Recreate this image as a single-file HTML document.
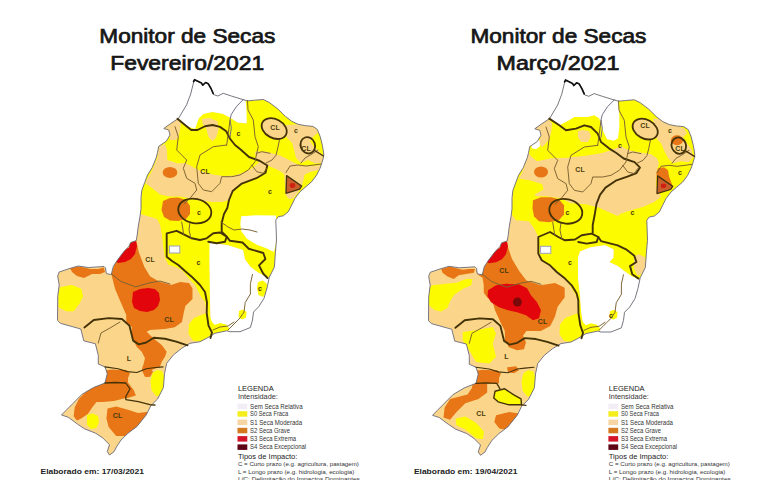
<!DOCTYPE html>
<html><head><meta charset="utf-8"><style>
html,body{margin:0;padding:0;background:#fff;}
body{width:770px;height:480px;overflow:hidden;position:relative;font-family:"Liberation Sans",sans-serif;}
svg{position:absolute;left:0;top:0;}
.title{font-family:"Liberation Sans",sans-serif;font-weight:normal;font-size:20px;fill:#161616;stroke:#161616;stroke-width:0.7px;}
.lb{font-family:"Liberation Sans",sans-serif;font-size:7px;font-weight:bold;fill:#4a3a0a;}
.lg1{font-size:7.6px;fill:#222;} .lg1n{font-size:7.6px;fill:#222;} .lg2{font-size:6.6px;fill:#333;} .lg3{font-size:6.3px;fill:#333;} .lg4{font-size:6px;fill:#333;} .el{font-size:8.1px;font-weight:bold;fill:#222;}
text{font-family:"Liberation Sans",sans-serif;}
</style></head><body>
<svg width="770" height="480" viewBox="0 0 770 480">
<defs><clipPath id="oc"><path d="M194.6,79.7 L201.5,83.1 L202.8,85.2 L205.6,82.5 L208.3,83.8 L211,88.5 L213.7,94.6 L217.8,96 L223.2,93.3 L231.3,96 L240,98.7 L247.3,100.9 L254.6,100.2 L263.3,99.5 L269.2,102.4 L277.9,109 L285.2,116.2 L291.7,121.3 L298.3,124.3 L305.6,125.7 L312.9,126.4 L317.3,129.4 L320.2,136.6 L322.4,145.4 L323.8,154.1 L323.3,158 L321.7,163.3 L320,168.3 L316.7,175 L311.7,181.7 L305,187.5 L300,191.7 L295,198.3 L291.7,205 L288.3,211.7 L283.3,215.8 L278.3,216.7 L275.8,220 L276.5,240 L275.4,252.5 L274.4,267 L269.2,277.5 L267,288 L264,298.3 L258.75,306.7 L253.5,312 L252.5,320 L250.4,327.5 L240,331.7 L230,331.7 L226.7,330.8 L215,333.3 L206.7,338.3 L200,341.7 L190,343.3 L181.7,348.3 L173.3,355 L166.7,363.3 L164.5,373.7 L163.4,387.5 L157.6,399 L150.75,405.8 L146.2,415 L137,426.4 L127.9,433.3 L121,440 L116.4,447 L114.1,451.6 L109.5,455 L107.25,451.6 L109.5,444.7 L102.7,437.9 L95.8,433.3 L84.3,428.7 L77.5,424.1 L68.3,417.25 L61.5,415 L66,410.4 L72.9,403.5 L82,394.3 L93.5,387.5 L105,383 L107.25,373.7 L105,366.9 L98.3,364 L98.3,355.4 L95.4,343.75 L83.75,340.8 L80.8,329 L60.4,323.3 L57.5,320.4 L57.7,296.7 L59.2,285 L57.7,276 L59.2,272 L68,269 L78,266 L88.3,267.5 L104,266.5 L105.5,268 L106.3,273.5 L111.25,274.6 L113.3,266.25 L117.5,260 L123.75,251.7 L128.75,246.5 L130.6,242.5 L136.25,240.6 L137.2,235 L138.1,227.5 L140,216.25 L141,208.75 L141,197.5 L141.9,190 L144.7,182.5 L147.5,175 L152.2,167.5 L156.25,157.5 L157.5,152.5 L158.75,146.25 L166.25,141.25 L170,135 L168.75,130 L163.75,128.5 L170.3,123.8 L178.5,118.4 L186.6,104.8 L190.7,94 L193.4,83.1 Z"/></clipPath></defs>
<g id="L">
<path d="M194.6,79.7 L201.5,83.1 L202.8,85.2 L205.6,82.5 L208.3,83.8 L211,88.5 L213.7,94.6 L217.8,96 L223.2,93.3 L231.3,96 L240,98.7 L247.3,100.9 L254.6,100.2 L263.3,99.5 L269.2,102.4 L277.9,109 L285.2,116.2 L291.7,121.3 L298.3,124.3 L305.6,125.7 L312.9,126.4 L317.3,129.4 L320.2,136.6 L322.4,145.4 L323.8,154.1 L323.3,158 L321.7,163.3 L320,168.3 L316.7,175 L311.7,181.7 L305,187.5 L300,191.7 L295,198.3 L291.7,205 L288.3,211.7 L283.3,215.8 L278.3,216.7 L275.8,220 L276.5,240 L275.4,252.5 L274.4,267 L269.2,277.5 L267,288 L264,298.3 L258.75,306.7 L253.5,312 L252.5,320 L250.4,327.5 L240,331.7 L230,331.7 L226.7,330.8 L215,333.3 L206.7,338.3 L200,341.7 L190,343.3 L181.7,348.3 L173.3,355 L166.7,363.3 L164.5,373.7 L163.4,387.5 L157.6,399 L150.75,405.8 L146.2,415 L137,426.4 L127.9,433.3 L121,440 L116.4,447 L114.1,451.6 L109.5,455 L107.25,451.6 L109.5,444.7 L102.7,437.9 L95.8,433.3 L84.3,428.7 L77.5,424.1 L68.3,417.25 L61.5,415 L66,410.4 L72.9,403.5 L82,394.3 L93.5,387.5 L105,383 L107.25,373.7 L105,366.9 L98.3,364 L98.3,355.4 L95.4,343.75 L83.75,340.8 L80.8,329 L60.4,323.3 L57.5,320.4 L57.7,296.7 L59.2,285 L57.7,276 L59.2,272 L68,269 L78,266 L88.3,267.5 L104,266.5 L105.5,268 L106.3,273.5 L111.25,274.6 L113.3,266.25 L117.5,260 L123.75,251.7 L128.75,246.5 L130.6,242.5 L136.25,240.6 L137.2,235 L138.1,227.5 L140,216.25 L141,208.75 L141,197.5 L141.9,190 L144.7,182.5 L147.5,175 L152.2,167.5 L156.25,157.5 L157.5,152.5 L158.75,146.25 L166.25,141.25 L170,135 L168.75,130 L163.75,128.5 L170.3,123.8 L178.5,118.4 L186.6,104.8 L190.7,94 L193.4,83.1 Z" fill="#fbd68a"/>
<g clip-path="url(#oc)">
<path d="M178.75,118.75 L188.75,121.25 L197.5,117.5 L203.75,113.75 L212.5,111.9 L222.5,113.75 L230,117.5 L237.5,122.5 L245.8,123.5 L245.5,100.6 L247.3,100.9 L254.6,100.2 L263.3,99.5 L269.2,102.4 L277.9,109 L285.2,116.2 L291.7,121.3 L298.3,124.3 L305.6,125.7 L312.9,126.4 L317.3,129.4 L320.2,136.6 L322.4,145.4 L323.8,154.1 L323.3,158 L321.7,163.3 L320,168.3 L316.7,175 L311.7,181.7 L305,187.5 L300,191.7 L295,198.3 L291.7,205 L288.3,211.7 L283.3,215.8 L278.3,216.7 L275.8,220 L276.5,240 L275.4,252.5 L274.4,267 L269.2,277.5 L265.6,276.25 L258,272.5 L250.6,267 L245,259.4 L243,250 L228,245.3 L211,242.5 L209.5,260 L210,300 L210.5,318 L206.7,313 L205,302 L200,295 L195,285 L188.3,278.3 L181.7,270 L175,266.7 L168.3,265 L165,258.3 L163.3,248.3 L161.7,235 L160,225 L157,219 L140.6,214 L141.9,190 L144.7,182.5 L147.5,175 L152.2,167.5 L156,160 L157.5,152.5 L158.75,146.25 L166.25,141.25 L170,135 L168.75,130 L163.75,128.5 L170.3,123.8 Z" fill="#fdfb00"/>
<path d="M158.75,146.25 L165,144 L167,150 L167.3,160 L178.2,163.6 L185.5,163 L194.5,168 L201.8,171.5 L212.7,174.5 L223.6,176 L234.5,175.5 L245.5,172 L252.7,168 L258.2,163 L265.5,160 L268,165 L264,172 L256.4,177.5 L249,180.5 L241.8,183.6 L232.7,191 L229,200 L222,202 L212,202 L200,200.5 L189,198.2 L180,196.4 L169,196.4 L160,194.5 L151,187.3 L145.5,183.6 L145.5,181.8 L151,172.7 L157.3,158.2 Z" fill="#fbd68a"/>
<path d="M163.75,128.5 L170,124.5 L177.5,119 L181,123 L180,130 L178.75,137 L176,140 L170,140 L170,135 L168.75,130 Z" fill="#fbd68a"/>
<path d="M201.9,118.75 L210,118.1 L217.5,121.25 L218.75,128.75 L216.25,137.5 L212.5,141.25 L208.75,137.5 L206.25,128.75 L202.5,123.75 Z" fill="#fbd68a"/>
<path d="M286,125 L297.3,124.2 L306,126 L315,127 L318.5,132.2 L313,137 L310,141 L314,147 L320,152 L323.5,158 L322,163 L315,163.5 L308,160 L301,163 L296,158 L294,150 L292,143 L288.4,139.2 L284.5,135 Z" fill="#fbd68a"/>
<path d="M254.8,151.6 L265.4,151.6 L279.6,155.2 L290.2,160.5 L300.8,165.8 L313.2,165.8 L321.5,165 L319.5,170 L310,172 L303,175.6 L300,180 L290,178 L284,174 L278,170 L269,166 L262,166 L256.5,160 Z" fill="#fbd68a"/>
<path d="M284,172 L296,170 L305,173 L303,182 L301.7,186 L299.6,189.2 L297.5,193.3 L293.5,198.5 L289,199 L285.5,195 L285,185 Z" fill="#fbd68a"/>
<path d="M138.75,220 L157,219 L160,225 L161.7,235 L163.3,248.3 L165,258.3 L168.3,265 L175,266.7 L181.7,270 L188.3,278.3 L195,285 L200,295 L150,300 L130,260 L136,240 Z" fill="#fbd68a"/>
<path d="M194.6,79.7 L201.5,83.1 L202.8,85.2 L205.6,82.5 L208.3,83.8 L211,88.5 L213.7,94.6 L217.8,96 L223.2,93.3 L231.3,96 L240,98.7 L245.5,100.6 L246.5,110 L246.8,123.3 L237.5,122.5 L231.9,118.75 L230,117.5 L222.5,113.75 L212.5,111.9 L203.75,113.75 L199,118 L195,129 L186.25,126 L177.5,118.75 L183.75,107.5 L187.5,100 L190.7,94 L193.4,83.1 Z" fill="#ffffff"/>
<path d="M241.25,216.25 L256.25,215.3 L276,215.5 L276.5,240 L274,252 L265.6,248 L256.25,244.4 L246.9,238.75 L241.25,231.25 L240.3,223.75 Z" fill="#ffffff"/>
<path d="M209.4,242.5 L228,245.3 L243,250 L245,259.4 L250.6,267 L258,272.5 L265.6,276.25 L269.2,277.5 L267,288 L264,298.3 L258.75,306.7 L253.5,312 L252.5,320 L250.4,327.5 L240,331.7 L230,331.7 L226.7,330.8 L215,333.3 L212,332.6 L210.5,318 L210,300 L209.5,260 Z" fill="#ffffff"/>
<path d="M286.6,175.6 L301.7,186 L299.6,189.2 L286,193.3 Z" fill="#c8602e"/>
<path d="M116.9,255 L122,250 L128.75,248 L130.6,242.5 L136.25,240.6 L138.75,252 L144.4,267 L150,276.25 L159,281.5 L171.25,285 L180.1,282 L189,283 L192.5,288.3 L192.5,299 L185.4,306 L183.7,313 L182,322 L174.8,327.3 L165,329 L150,330 L146.7,331.7 L153.3,338.3 L161.7,345 L166.7,351.7 L165,356.7 L161.7,361.7 L160,366.7 L151.7,370 L150,376.7 L145,376.7 L141.7,370 L143.3,365 L145,358.3 L141.7,351.7 L136.7,346.7 L133.3,340 L131.7,333.3 L131.7,326.7 L126.25,322.5 L126.25,315 L120.6,301.9 L115,288.75 L111.25,273.75 L114.6,264.6 Z" fill="#e87616"/>
<path d="M70,268 L79.4,266.5 L90.6,269 L98,269 L103.75,267.5 L105,272 L100,274 L92,274 L84,278 L77,276 L72,272 Z" fill="#e87616"/>
<path d="M60.6,286.9 L71.9,285 L81.25,288.75 L83.1,296.25 L79.4,303.75 L73.75,311.25 L66.25,311.25 L58.75,307.5 L58.2,292.5 Z" fill="#fdfb00"/>
<path d="M130.6,242.5 L136,241 L137,246 L135,254 L131,259 L125,262 L118,263 L115,261 L117.5,256 L122,250 L128.75,248 Z" fill="#e2060c"/>
<path d="M133,292 L140,289 L148,288 L155,289 L159,293 L160,300 L158,306 L154,310 L147,312 L140,311 L134,308 L132,302 Z" fill="#e2060c"/>
<path d="M105,370.4 L112,369.5 L120,370 L126,370 L130,373 L128,378 L128,383 L123,383.5 L112,383.5 L105,383 L106,378.75 L107,372.5 Z" fill="#e87616"/>
<path d="M105.3,380.1 L127.1,381.2 L133.7,390 L135.9,395.4 L129.3,397.6 L122.8,398.7 L114,401 L103,402 L96.5,402 L92.2,407.5 L87.8,414 L81.2,418.4 L76.9,420.6 L73.6,416.2 L74.7,407.5 L79,398.7 L87.8,390 L96.5,383.4 Z" fill="#e87616"/>
<path d="M107.5,408.6 L116.2,406.4 L127.1,409.6 L138,413 L149,411.8 L146.8,420.6 L138,429.3 L127.1,436 L116.2,436 L108.6,427.1 L106.4,418.4 Z" fill="#e87616"/>
<path d="M87,415 L93,413.5 L98,416 L99,422 L96.5,428 L91,429 L87,425 Z" fill="#fdfb00"/>
<path d="M157,370 L162,371 L164.4,376.7 L164,387 L161.25,395.4 L156,396 L151.5,390 L150.5,381 L152.5,373 Z" fill="#fdfb00"/>
<path d="M142.5,366 L150,366 L153,372 L150,376.7 L145,376.7 Z" fill="#e87616"/>
<path d="M163,201 L170,198 L178,197.5 L186,200 L190,206 L190,214 L186,219 L178,221 L170,220.5 L164,217 L161.5,210 Z" fill="#e87616"/>
<path d="M206.7,313 L210.5,318 L212,322 L215,325 L213.3,333.5 L206.7,338.3 L200,341.7 L193,340.5 L188.5,334 L189,324 L194,318 L201,315 Z" fill="#fdfb00"/>
<path d="M213.3,325.5 L220,323 L226,324.5 L229,328 L228.3,331.5 L220,332.5 L213.3,333.5 Z" fill="#fdfb00"/>
<path d="M239,311 L243,309.5 L246.5,312 L246,317.5 L242,319.5 L238.5,317 Z" fill="#fdfb00"/>
<path d="M258,282 L263,280.5 L267,284 L266.5,292 L263,297 L258.5,295 L257,288 Z" fill="#fdfb00"/>
<ellipse cx="292.5" cy="185.5" rx="2.8" ry="2.4" transform="rotate(0 292.5 185.5)" fill="#d02010"/>
<ellipse cx="274.2" cy="128.6" rx="13.3" ry="9.4" transform="rotate(28 274.2 128.6)" fill="#fbd68a"/>
<ellipse cx="170" cy="172.4" rx="7.3" ry="5.5" transform="rotate(0 170 172.4)" fill="#e87616"/>
</g>
<path d="M194.6,79.7 L201.5,83.1 L202.8,85.2 L205.6,82.5 L208.3,83.8 L211,88.5 L213.7,94.6 L217.8,96 L223.2,93.3 L231.3,96 L240,98.7 L247.3,100.9 L254.6,100.2 L263.3,99.5 L269.2,102.4 L277.9,109 L285.2,116.2 L291.7,121.3 L298.3,124.3 L305.6,125.7 L312.9,126.4 L317.3,129.4 L320.2,136.6 L322.4,145.4 L323.8,154.1 L323.3,158 L321.7,163.3 L320,168.3 L316.7,175 L311.7,181.7 L305,187.5 L300,191.7 L295,198.3 L291.7,205 L288.3,211.7 L283.3,215.8 L278.3,216.7 L275.8,220 L276.5,240 L275.4,252.5 L274.4,267 L269.2,277.5 L267,288 L264,298.3 L258.75,306.7 L253.5,312 L252.5,320 L250.4,327.5 L240,331.7 L230,331.7 L226.7,330.8 L215,333.3 L206.7,338.3 L200,341.7 L190,343.3 L181.7,348.3 L173.3,355 L166.7,363.3 L164.5,373.7 L163.4,387.5 L157.6,399 L150.75,405.8 L146.2,415 L137,426.4 L127.9,433.3 L121,440 L116.4,447 L114.1,451.6 L109.5,455 L107.25,451.6 L109.5,444.7 L102.7,437.9 L95.8,433.3 L84.3,428.7 L77.5,424.1 L68.3,417.25 L61.5,415 L66,410.4 L72.9,403.5 L82,394.3 L93.5,387.5 L105,383 L107.25,373.7 L105,366.9 L98.3,364 L98.3,355.4 L95.4,343.75 L83.75,340.8 L80.8,329 L60.4,323.3 L57.5,320.4 L57.7,296.7 L59.2,285 L57.7,276 L59.2,272 L68,269 L78,266 L88.3,267.5 L104,266.5 L105.5,268 L106.3,273.5 L111.25,274.6 L113.3,266.25 L117.5,260 L123.75,251.7 L128.75,246.5 L130.6,242.5 L136.25,240.6 L137.2,235 L138.1,227.5 L140,216.25 L141,208.75 L141,197.5 L141.9,190 L144.7,182.5 L147.5,175 L152.2,167.5 L156.25,157.5 L157.5,152.5 L158.75,146.25 L166.25,141.25 L170,135 L168.75,130 L163.75,128.5 L170.3,123.8 L178.5,118.4 L186.6,104.8 L190.7,94 L193.4,83.1 Z" fill="none" stroke="#6a6a7a" stroke-width="0.9"/>
<path d="M177.5,118.75 L185,125 L191.25,130 L197.5,130 L205,126.25 L212.5,125 L220,126.9 L226.25,131.25 L230,138.75 L235,145 L240,149 L249,157 L260,161 L267.3,165.5 L265.5,172.7 L256.4,178.2 L241.8,183.6 L232.7,191 L229,200 L227.3,208 L224,214 L221.7,223 L221.7,231.7 L226.7,236.7 L230,240.8 L242.5,242.5 L248.75,248.75 L263.3,253 L265.4,259 L259,265.4 L263.3,273.75 L267.5,278" fill="none" stroke="#443208" stroke-width="1.9" stroke-linejoin="round" stroke-linecap="round"/>
<path d="M208.3,241.7 L216.7,243.3 L225,241.7 L226.7,236.7 L220,232.5 L213.3,233.3 L206.7,238.3 L200,240 L191.7,238.3 L183.3,234.2 L176.7,230.8 L166.7,233.3 L166.7,256.7 L172,261 L178.3,265 L185,271 L191.7,276.7 L200,285 L205,292 L207,302.5 L206.7,313 L208.5,325.6 L212,332.6 L210.5,338" fill="none" stroke="#443208" stroke-width="1.9" stroke-linejoin="round" stroke-linecap="round"/>
<path d="M84.4,327.5 L93.75,320 L108.75,318.1 L121.9,319 L129.4,325.6 L131.25,333.1 L133.1,340.6 L138.75,344.4 L146.25,342.5 L153.75,337.8 L165,338.75 L176.25,341.6 L187.5,345.3" fill="none" stroke="#443208" stroke-width="1.9" stroke-linejoin="round" stroke-linecap="round"/>
<path d="M105,366.9 L118.1,368.75 L127.5,371.6 L136.9,372.5 L146.25,368.75 L153.75,367.8 L163.1,366.9" fill="none" stroke="#443208" stroke-width="1.1" stroke-linejoin="round" stroke-linecap="round"/>
<path d="M105,383 L115,382.5 L125.8,383 L130,389 L125.8,396.5 L125.8,399.6 L138.3,401.7 L150.8,404.8 L155,405" fill="none" stroke="#443208" stroke-width="1.3" stroke-linejoin="round" stroke-linecap="round"/>
<path d="M175,126.7 L178.3,136.7 L176.7,150 L186.7,160 L183.3,168.3 L186.7,178.3 L195,183.3 L196.7,190 L190,198.3 L184,204" fill="none" stroke="#7a6030" stroke-width="0.95" stroke-linejoin="round" stroke-linecap="round"/>
<path d="M226.7,145 L213.3,146.7 L200,155 L196.7,166.7 L198.3,183.3 L203.3,190 L211.7,191.7 L220,183.3 L221.7,176.7 L231.7,176.7 L240,175 L248.3,170 L255,161.7 L256.7,153.3 L261.7,151.7 L270,153.3" fill="none" stroke="#7a6030" stroke-width="0.95" stroke-linejoin="round" stroke-linecap="round"/>
<path d="M247.5,100.5 L248,110 L253.3,120 L255,136.7 L258.3,146.7 L256.7,153.3" fill="none" stroke="#7a6030" stroke-width="0.95" stroke-linejoin="round" stroke-linecap="round"/>
<path d="M230,120 L228.3,133.3 L226.7,145" fill="none" stroke="#7a6030" stroke-width="0.95" stroke-linejoin="round" stroke-linecap="round"/>
<path d="M251.7,165 L256.7,171.7 L263.3,173.3 L266.7,168.3" fill="none" stroke="#7a6030" stroke-width="0.95" stroke-linejoin="round" stroke-linecap="round"/>
<path d="M279.6,139.2 L277.8,148 L276,155.2 L272,160 L266,163" fill="none" stroke="#7a6030" stroke-width="0.95" stroke-linejoin="round" stroke-linecap="round"/>
<path d="M286,172.5 L290,166 L298,165 L306,166 L314,165 L321,164" fill="none" stroke="#7a6030" stroke-width="0.95" stroke-linejoin="round" stroke-linecap="round"/>
<path d="M301,163 L305,158 L312,154 L318,150" fill="none" stroke="#7a6030" stroke-width="0.95" stroke-linejoin="round" stroke-linecap="round"/>
<path d="M111.25,273.75 L120.6,281.25 L135.6,286.9 L148.75,283 L160,281 L170,284" fill="none" stroke="#7a6030" stroke-width="0.95" stroke-linejoin="round" stroke-linecap="round"/>
<path d="M120,322 L110,328 L101,333 L98.3,343" fill="none" stroke="#7a6030" stroke-width="0.95" stroke-linejoin="round" stroke-linecap="round"/>
<path d="M181.7,222 L183,230 L183.75,235" fill="none" stroke="#7a6030" stroke-width="0.95" stroke-linejoin="round" stroke-linecap="round"/>
<path d="M190,222 L189,230 L191,238.75" fill="none" stroke="#7a6030" stroke-width="0.95" stroke-linejoin="round" stroke-linecap="round"/>
<path d="M221,222 L228,227 L234,230 L242,229 L250,230 L257,232" fill="none" stroke="#7a6030" stroke-width="0.95" stroke-linejoin="round" stroke-linecap="round"/>
<path d="M252.5,274.4 L250.4,283.75 L250.4,294 L245.2,302.5 L244,312 L240,318 L236,322 L232,326 L228,330" fill="none" stroke="#7a6030" stroke-width="0.95" stroke-linejoin="round" stroke-linecap="round"/>
<path d="M213,330 L220,327 L228,326 L234,322" fill="none" stroke="#7a6030" stroke-width="0.95" stroke-linejoin="round" stroke-linecap="round"/>
<path d="M243.5,99.4 L236.7,106.2 L231.3,114.3 L230,119.7 L231.3,127.8 L230,137" fill="none" stroke="#6a6a80" stroke-width="0.95" stroke-linejoin="round" stroke-linecap="round"/>
<path d="M286.6,175.6 L301.7,186 L299.6,189.2 L286,193.3 L286.6,175.6" fill="none" stroke="#443208" stroke-width="1.3" stroke-linejoin="round" stroke-linecap="round"/>
<path d="M314.5,150.5 L323.5,156" fill="none" stroke="#443208" stroke-width="1.4" stroke-linejoin="round" stroke-linecap="round"/>
<ellipse cx="274.2" cy="128.6" rx="13.3" ry="9.4" transform="rotate(28 274.2 128.6)" fill="none" stroke="#443208" stroke-width="1.8"/>
<ellipse cx="194.8" cy="211" rx="16.7" ry="12.2" transform="rotate(12 194.8 211)" fill="none" stroke="#443208" stroke-width="1.8"/>
<ellipse cx="307.8" cy="145.3" rx="7.2" ry="8.3" transform="rotate(-20 307.8 145.3)" fill="none" stroke="#443208" stroke-width="1.8"/>
<path d="M193.6,81.5 L194.6,79.7 L201.5,83.1 L202.8,85.2 L205.6,82.5 L208.3,83.8 L211,88.5 L213.2,93.5" fill="none" stroke="#111" stroke-width="1.7" stroke-linejoin="round" stroke-linecap="round"/>
<rect x="169.4" y="246" width="10.4" height="7" fill="#fff" stroke="#9aa0c0" stroke-width="1"/>
<text x="275" y="130" class="lb" text-anchor="middle">CL</text>
<text x="296" y="133" class="lb" text-anchor="middle">c</text>
<text x="306" y="150.5" class="lb" text-anchor="middle">CL</text>
<text x="238.5" y="136" class="lb" text-anchor="middle">c</text>
<text x="205" y="173.5" class="lb" text-anchor="middle">CL</text>
<text x="270" y="193.5" class="lb" text-anchor="middle">c</text>
<text x="199" y="214.5" class="lb" text-anchor="middle">c</text>
<text x="150" y="262" class="lb" text-anchor="middle">CL</text>
<text x="198.5" y="264.5" class="lb" text-anchor="middle">c</text>
<text x="260" y="290.5" class="lb" text-anchor="middle">c</text>
<text x="169" y="322" class="lb" text-anchor="middle">CL</text>
<text x="129" y="360.5" class="lb" text-anchor="middle">L</text>
<text x="117.5" y="418" class="lb" text-anchor="middle">CL</text>
</g>
<g id="R" transform="translate(371,0.3)">
<path d="M194.6,79.7 L201.5,83.1 L202.8,85.2 L205.6,82.5 L208.3,83.8 L211,88.5 L213.7,94.6 L217.8,96 L223.2,93.3 L231.3,96 L240,98.7 L247.3,100.9 L254.6,100.2 L263.3,99.5 L269.2,102.4 L277.9,109 L285.2,116.2 L291.7,121.3 L298.3,124.3 L305.6,125.7 L312.9,126.4 L317.3,129.4 L320.2,136.6 L322.4,145.4 L323.8,154.1 L323.3,158 L321.7,163.3 L320,168.3 L316.7,175 L311.7,181.7 L305,187.5 L300,191.7 L295,198.3 L291.7,205 L288.3,211.7 L283.3,215.8 L278.3,216.7 L275.8,220 L276.5,240 L275.4,252.5 L274.4,267 L269.2,277.5 L267,288 L264,298.3 L258.75,306.7 L253.5,312 L252.5,320 L250.4,327.5 L240,331.7 L230,331.7 L226.7,330.8 L215,333.3 L206.7,338.3 L200,341.7 L190,343.3 L181.7,348.3 L173.3,355 L166.7,363.3 L164.5,373.7 L163.4,387.5 L157.6,399 L150.75,405.8 L146.2,415 L137,426.4 L127.9,433.3 L121,440 L116.4,447 L114.1,451.6 L109.5,455 L107.25,451.6 L109.5,444.7 L102.7,437.9 L95.8,433.3 L84.3,428.7 L77.5,424.1 L68.3,417.25 L61.5,415 L66,410.4 L72.9,403.5 L82,394.3 L93.5,387.5 L105,383 L107.25,373.7 L105,366.9 L98.3,364 L98.3,355.4 L95.4,343.75 L83.75,340.8 L80.8,329 L60.4,323.3 L57.5,320.4 L57.7,296.7 L59.2,285 L57.7,276 L59.2,272 L68,269 L78,266 L88.3,267.5 L104,266.5 L105.5,268 L106.3,273.5 L111.25,274.6 L113.3,266.25 L117.5,260 L123.75,251.7 L128.75,246.5 L130.6,242.5 L136.25,240.6 L137.2,235 L138.1,227.5 L140,216.25 L141,208.75 L141,197.5 L141.9,190 L144.7,182.5 L147.5,175 L152.2,167.5 L156.25,157.5 L157.5,152.5 L158.75,146.25 L166.25,141.25 L170,135 L168.75,130 L163.75,128.5 L170.3,123.8 L178.5,118.4 L186.6,104.8 L190.7,94 L193.4,83.1 Z" fill="#fbd68a"/>
<g clip-path="url(#oc)">
<path d="M156,157 L157.3,156.4 L157.5,152.5 L158.75,146.25 L166.25,141.25 L170,135 L168.75,130 L163.75,128.5 L170.3,123.8 L178.5,118.4 L186.6,104.8 L190.7,94 L193.4,83.1 L194.6,79.7 L201.5,83.1 L202.8,85.2 L205.6,82.5 L208.3,83.8 L211,88.5 L213.7,94.6 L217.8,96 L223.2,93.3 L231.3,96 L240,98.7 L247.3,100.9 L254.6,100.2 L263.3,99.5 L269.2,102.4 L277.9,109 L285.2,116.2 L291.7,121.3 L298.3,124.3 L305.6,125.7 L312.9,126.4 L317.3,129.4 L320.2,136.6 L322.4,145.4 L323.8,154.1 L323.3,158 L321.7,163.3 L320,168.3 L316.7,175 L311.7,181.7 L305,187.5 L300,191.7 L295,198.3 L291.7,205 L288.3,211.7 L283.3,215.8 L278.3,216.7 L275.8,220 L276.5,240 L275.4,252.5 L274.4,267 L269.2,277.5 L267.5,278.3 L261,276.25 L255,272 L246.7,265.8 L238.3,261.7 L242.5,257.5 L242.5,249 L234,245 L219.6,247 L209,251.25 L207,257.5 L207,278 L209,295 L210,310 L212,325 L208.5,325.6 L206.7,313 L207.6,302.5 L205,295 L198.75,284.6 L190.4,274 L180,265.8 L168.5,257.5 L167.5,236.7 L163,228 L158,221 L145,220 L140.6,214 L141.9,190 L144.7,182.5 L147.5,175 L152.2,167.5 Z" fill="#fdfb00"/>
<path d="M157.5,152.5 L160,156 L166,161 L166,161 L180,158 L196,157.5 L214,155.5 L230,153 L240,150 L250,146 L258,150 L268,152 L280,154 L286,158 L288,163 L286,170 L285,185 L290,196.7 L283.3,201.7 L271.7,206.7 L260,210 L250,213.3 L246.7,215.8 L238,212 L228,207.5 L215,204 L200,203 L190,198 L175,196 L165,196 L163.6,194.5 L172.7,189 L171,183.6 L158.2,180 L147.3,178.2 L145.5,181.8 L151,172.7 L156.25,157.5 Z" fill="#fbd68a"/>
<path d="M163.75,128.5 L170.3,123.8 L177.5,119 L181,123 L180.5,130 L178.75,138 L175,143 L171,147 L168,143 L170,135 L168.75,130 Z" fill="#fbd68a"/>
<path d="M282,118 L290,119 L297,122 L300,127 L296,133 L290,137 L284,138 Z" fill="#fbd68a"/>
<path d="M206.7,131 L212,129.5 L218,131 L220,136 L217,141.7 L210,141.7 L207,137 Z" fill="#fbd68a"/>
<path d="M194.6,79.7 L201.5,83.1 L202.8,85.2 L205.6,82.5 L208.3,83.8 L211,88.5 L213.7,94.6 L217.8,96 L223.2,93.3 L231.3,96 L240,98.7 L247.3,100.9 L248.3,115 L248.3,128 L247,138 L243,140.5 L236,139 L231.7,130 L229,121 L228.3,118.3 L223.3,115 L216.7,116.7 L203.3,116.7 L198.3,120 L188.3,125 L178.3,118.3 L183.75,107.5 L187.5,100 L190.7,94 L193.4,83.1 Z" fill="#ffffff"/>
<path d="M163,138 L168.5,140 L169,146 L165,149 L160.5,148 L161,143 Z" fill="#ffffff"/>
<path d="M286.7,124 L296,124 L306,126 L313,128 L316,133 L312,137 L316,143 L321,150 L322,157 L318,162 L310,161 L302,163 L297,158 L293,150 L290,143 L286,139 L284,134 Z" fill="#fbd68a"/>
<path d="M263,256 L268,254 L274,257 L274.5,266 L272,274 L266,275 L263,268 Z" fill="#fbd68a"/>
<path d="M209,251.25 L219.6,247 L234,245 L242.5,249 L242.5,257.5 L238.3,261.7 L246.7,265.8 L255,272 L261,276.25 L267.5,278.3 L269.2,277.5 L267,288 L264,298.3 L258.75,306.7 L253.5,312 L252.5,320 L250.4,327.5 L240,331.7 L230,331.7 L226.7,330.8 L215,333.3 L212,325 L210,310 L209,295 L207,278 L207,257.5 Z" fill="#ffffff"/>
<path d="M239,311 L243,309.5 L246.5,312 L246,317.5 L242,319.5 L238.5,317 Z" fill="#fdfb00"/>
<path d="M206.7,313 L210.5,318 L212,322 L215,325 L213.3,333.5 L206.7,338.3 L200,341.7 L193,340.5 L188.5,334 L189,324 L194,318 L201,315 Z" fill="#fdfb00"/>
<path d="M213.3,325.5 L220,323 L226,324.5 L229,328 L228.3,331.5 L220,332.5 L213.3,333.5 Z" fill="#fdfb00"/>
<path d="M117.5,255.8 L122,250 L128.75,248 L130.6,242.5 L136.2,244.4 L141,258.7 L148.2,270.7 L155.4,280.3 L169.7,285 L184,282.7 L193.7,287.5 L193.7,297 L186.5,306.6 L184,316.2 L179.3,325.8 L169.7,330.6 L155.4,330.6 L152,335.4 L155,342 L153,349 L146,350 L138,347 L134,340 L133.8,330.6 L129,321 L124,310 L121.5,301.25 L116.5,297.5 L112.75,292.5 L112.75,285 L111.5,277.5 L107.75,275 L105.25,271.25 L107.3,267.5 L114.6,264.6 Z" fill="#e87616"/>
<path d="M70.25,268.75 L79,266.25 L85.25,268 L91.5,269.4 L97.75,268.75 L104,268.75 L102.75,272.5 L95.25,273.75 L87.75,275 L82.75,278.75 L76.5,276.25 L71.5,272.5 Z" fill="#e87616"/>
<path d="M61.5,285 L72.75,283.75 L85.25,282.5 L95.25,278.75 L101.5,278.75 L100.25,285 L91.5,288.75 L82.75,295 L79,301.25 L76.5,307.5 L70.25,311.25 L64,310 L57.75,305 L57.1,295 L57.75,287.5 Z" fill="#fdfb00"/>
<path d="M130.6,242.5 L136,241 L137,246 L135,254 L131,259 L125,262 L118,263 L115,261 L117.5,256 L122,250 L128.75,248 Z" fill="#e2060c"/>
<path d="M117,290 L125,285 L135,283.5 L148,284 L156,288 L160,295 L166,302 L170,310 L168,318 L162,320 L155,315 L146,312 L137,310 L128,307 L120,302 L116.5,296 Z" fill="#e2060c"/>
<path d="M91.7,331.7 L105,330 L121.7,326.7 L125,333.3 L121.7,343.3 L125,356.7 L118.3,363.3 L105,361.7 L98.3,350 L91.7,340 Z" fill="#fdfb00"/>
<path d="M105,370.4 L112,369.5 L120,370 L126,370 L130,373 L128,378 L128,383 L123,383.5 L112,383.5 L105,383 L106,378.75 L107,372.5 Z" fill="#e87616"/>
<path d="M136,367 L145,366 L148,370 L143,373 L137,372 Z" fill="#e87616"/>
<path d="M157,370 L162,371 L164.4,376.7 L164,387 L161.25,395.4 L156,396 L151.5,390 L150.5,381 L152.5,373 Z" fill="#fdfb00"/>
<path d="M124,391 L133.7,388.5 L142.4,394.3 L150,398.5 L150.5,404.5 L138,404.5 L127.1,401.5 L122.8,397.6 Z" fill="#fdfb00"/>
<path d="M102,381.2 L116.2,383.4 L116.2,392.2 L107.5,398.7 L94.3,403 L85.6,411.8 L79,419.5 L72.5,417.3 L73.6,407.5 L79,398.7 L87.8,396.5 L96.5,394.3 L100.9,387.8 Z" fill="#e87616"/>
<path d="M84.5,418.4 L94.3,416.2 L105.3,422.8 L113,431.5 L111.8,439 L105.3,438 L94.3,429.3 L85.6,425 Z" fill="#fdfb00"/>
<path d="M125,415 L138.3,411.7 L148.3,413.3 L146.7,423.3 L138.3,430 L128.3,428.3 L123.3,421.7 Z" fill="#e87616"/>
<path d="M162,200 L170,197 L180,197 L188,199 L193,205 L193,214 L188,220 L178,222 L168,221 L163,216 L161.5,208 Z" fill="#e87616"/>
<path d="M287,168 L293,167 L297,170 L298,176 L301.7,186 L299.6,189.2 L286,193.3 L285.8,180 L285.5,172 Z" fill="#e87616"/>
<path d="M286.6,175.6 L301.7,186 L299.6,189.2 L286,193.3 Z" fill="#c8602e"/>
<ellipse cx="274.2" cy="128.8" rx="13.3" ry="9.4" transform="rotate(28 274.2 128.8)" fill="#fbd68a"/>
<ellipse cx="170" cy="171.7" rx="7" ry="5.5" transform="rotate(0 170 171.7)" fill="#e87616"/>
<ellipse cx="306" cy="140" rx="6" ry="5" transform="rotate(0 306 140)" fill="#e87616"/>
<ellipse cx="146.4" cy="301.8" rx="4.5" ry="4.5" transform="rotate(0 146.4 301.8)" fill="#7a0a0a"/>
<ellipse cx="292.5" cy="185.5" rx="2.8" ry="2.4" transform="rotate(0 292.5 185.5)" fill="#d02010"/>
</g>
<path d="M194.6,79.7 L201.5,83.1 L202.8,85.2 L205.6,82.5 L208.3,83.8 L211,88.5 L213.7,94.6 L217.8,96 L223.2,93.3 L231.3,96 L240,98.7 L247.3,100.9 L254.6,100.2 L263.3,99.5 L269.2,102.4 L277.9,109 L285.2,116.2 L291.7,121.3 L298.3,124.3 L305.6,125.7 L312.9,126.4 L317.3,129.4 L320.2,136.6 L322.4,145.4 L323.8,154.1 L323.3,158 L321.7,163.3 L320,168.3 L316.7,175 L311.7,181.7 L305,187.5 L300,191.7 L295,198.3 L291.7,205 L288.3,211.7 L283.3,215.8 L278.3,216.7 L275.8,220 L276.5,240 L275.4,252.5 L274.4,267 L269.2,277.5 L267,288 L264,298.3 L258.75,306.7 L253.5,312 L252.5,320 L250.4,327.5 L240,331.7 L230,331.7 L226.7,330.8 L215,333.3 L206.7,338.3 L200,341.7 L190,343.3 L181.7,348.3 L173.3,355 L166.7,363.3 L164.5,373.7 L163.4,387.5 L157.6,399 L150.75,405.8 L146.2,415 L137,426.4 L127.9,433.3 L121,440 L116.4,447 L114.1,451.6 L109.5,455 L107.25,451.6 L109.5,444.7 L102.7,437.9 L95.8,433.3 L84.3,428.7 L77.5,424.1 L68.3,417.25 L61.5,415 L66,410.4 L72.9,403.5 L82,394.3 L93.5,387.5 L105,383 L107.25,373.7 L105,366.9 L98.3,364 L98.3,355.4 L95.4,343.75 L83.75,340.8 L80.8,329 L60.4,323.3 L57.5,320.4 L57.7,296.7 L59.2,285 L57.7,276 L59.2,272 L68,269 L78,266 L88.3,267.5 L104,266.5 L105.5,268 L106.3,273.5 L111.25,274.6 L113.3,266.25 L117.5,260 L123.75,251.7 L128.75,246.5 L130.6,242.5 L136.25,240.6 L137.2,235 L138.1,227.5 L140,216.25 L141,208.75 L141,197.5 L141.9,190 L144.7,182.5 L147.5,175 L152.2,167.5 L156.25,157.5 L157.5,152.5 L158.75,146.25 L166.25,141.25 L170,135 L168.75,130 L163.75,128.5 L170.3,123.8 L178.5,118.4 L186.6,104.8 L190.7,94 L193.4,83.1 Z" fill="none" stroke="#6a6a7a" stroke-width="0.9"/>
<path d="M178.3,118.3 L188.3,125 L195,130 L205,128.3 L213.3,125 L220,126.7 L226.7,133.3 L230,141.7 L238.3,148.3 L245,152.5 L252.7,158.2 L263.6,161.8 L269,167.3 L265.5,172.7 L256.4,176.4 L245.5,180 L234.5,187.3 L229,194.5 L225.5,203.6 L223.6,215 L221.7,225 L221.7,232.5" fill="none" stroke="#443208" stroke-width="1.9" stroke-linejoin="round" stroke-linecap="round"/>
<path d="M227.3,236.7 L230,240.8 L246.7,245 L255,249 L263.3,255.4 L265.4,261.7 L259,265.8 L261.25,274 L267.5,278.3" fill="none" stroke="#443208" stroke-width="1.9" stroke-linejoin="round" stroke-linecap="round"/>
<path d="M207.3,241.7 L215.7,243.3 L225.7,241.7 L227.3,236.7 L220.7,233.3 L210.7,235 L204,239.2 L194,240 L187.3,236.7 L179,231.7 L167.3,236.7 L167.3,253.3 L170.7,260 L179,265 L185.7,271.7 L194,278.3 L200.7,285 L205.7,293.3 L207.3,300 L207.5,313 L209.3,325 L212,332.6 L210.5,338" fill="none" stroke="#443208" stroke-width="1.9" stroke-linejoin="round" stroke-linecap="round"/>
<path d="M84.4,327.5 L93.75,320 L108.75,318.1 L121.9,319 L129.4,325.6 L131.25,333.1 L133.1,340.6 L138.75,344.4 L146.25,342.5 L153.75,337.8 L165,338.75 L176.25,341.6 L187.5,345.3" fill="none" stroke="#443208" stroke-width="1.9" stroke-linejoin="round" stroke-linecap="round"/>
<path d="M105,366.9 L118.1,368.75 L127.5,371.6 L136.9,372.5 L146.25,368.75 L153.75,367.8 L163.1,366.9" fill="none" stroke="#443208" stroke-width="1.1" stroke-linejoin="round" stroke-linecap="round"/>
<path d="M105,383 L115,382.5 L125.8,383 L129,388.5" fill="none" stroke="#443208" stroke-width="1.3" stroke-linejoin="round" stroke-linecap="round"/>
<path d="M150.5,404.5 L155,405" fill="none" stroke="#443208" stroke-width="1.3" stroke-linejoin="round" stroke-linecap="round"/>
<path d="M124,391 L133.7,388.5 L142.4,394.3 L150,398.5 L150.5,404.5 L138,404.5 L127.1,401.5 L122.8,397.6 L124,391" fill="none" stroke="#443208" stroke-width="1.4" stroke-linejoin="round" stroke-linecap="round"/>
<path d="M175,126.7 L178.3,136.7 L176.7,150 L186.7,160 L183.3,168.3 L186.7,178.3 L195,183.3 L196.7,190 L190,198.3 L184,204" fill="none" stroke="#7a6030" stroke-width="0.95" stroke-linejoin="round" stroke-linecap="round"/>
<path d="M226.7,145 L213.3,146.7 L200,155 L196.7,166.7 L198.3,183.3 L203.3,190 L211.7,191.7 L220,183.3 L221.7,176.7 L231.7,176.7 L240,175 L248.3,170 L255,161.7 L256.7,153.3 L261.7,151.7 L270,153.3" fill="none" stroke="#7a6030" stroke-width="0.95" stroke-linejoin="round" stroke-linecap="round"/>
<path d="M247.5,100.5 L248,110 L253.3,120 L255,136.7 L258.3,146.7 L256.7,153.3" fill="none" stroke="#7a6030" stroke-width="0.95" stroke-linejoin="round" stroke-linecap="round"/>
<path d="M230,120 L228.3,133.3 L226.7,145" fill="none" stroke="#7a6030" stroke-width="0.95" stroke-linejoin="round" stroke-linecap="round"/>
<path d="M251.7,165 L256.7,171.7 L263.3,173.3 L266.7,168.3" fill="none" stroke="#7a6030" stroke-width="0.95" stroke-linejoin="round" stroke-linecap="round"/>
<path d="M279.6,139.2 L277.8,148 L276,155.2 L272,160 L266,163" fill="none" stroke="#7a6030" stroke-width="0.95" stroke-linejoin="round" stroke-linecap="round"/>
<path d="M286,172.5 L290,166 L298,165 L306,166 L314,165 L321,164" fill="none" stroke="#7a6030" stroke-width="0.95" stroke-linejoin="round" stroke-linecap="round"/>
<path d="M301,163 L305,158 L312,154 L318,150" fill="none" stroke="#7a6030" stroke-width="0.95" stroke-linejoin="round" stroke-linecap="round"/>
<path d="M111.25,273.75 L120.6,281.25 L135.6,286.9 L148.75,283 L160,281 L170,284" fill="none" stroke="#7a6030" stroke-width="0.95" stroke-linejoin="round" stroke-linecap="round"/>
<path d="M120,322 L110,328 L101,333 L98.3,343" fill="none" stroke="#7a6030" stroke-width="0.95" stroke-linejoin="round" stroke-linecap="round"/>
<path d="M181.7,222 L183,230 L183.75,235" fill="none" stroke="#7a6030" stroke-width="0.95" stroke-linejoin="round" stroke-linecap="round"/>
<path d="M190,222 L189,230 L191,238.75" fill="none" stroke="#7a6030" stroke-width="0.95" stroke-linejoin="round" stroke-linecap="round"/>
<path d="M252.5,274.4 L250.4,283.75 L250.4,294 L245.2,302.5 L244,312 L240,318 L236,322 L232,326 L228,330" fill="none" stroke="#7a6030" stroke-width="0.95" stroke-linejoin="round" stroke-linecap="round"/>
<path d="M213,330 L220,327 L228,326 L234,322" fill="none" stroke="#7a6030" stroke-width="0.95" stroke-linejoin="round" stroke-linecap="round"/>
<path d="M243.5,99.4 L236.7,106.2 L231.3,114.3 L230,119.7 L231.3,127.8 L230,137" fill="none" stroke="#6a6a80" stroke-width="0.95" stroke-linejoin="round" stroke-linecap="round"/>
<path d="M286.6,175.6 L301.7,186 L299.6,189.2 L286,193.3 L286.6,175.6" fill="none" stroke="#443208" stroke-width="1.3" stroke-linejoin="round" stroke-linecap="round"/>
<path d="M314.5,150.5 L323.5,156" fill="none" stroke="#443208" stroke-width="1.4" stroke-linejoin="round" stroke-linecap="round"/>
<ellipse cx="274.2" cy="128.8" rx="13.3" ry="9.4" transform="rotate(28 274.2 128.8)" fill="none" stroke="#443208" stroke-width="1.8"/>
<ellipse cx="194.8" cy="211" rx="16.7" ry="12.2" transform="rotate(12 194.8 211)" fill="none" stroke="#443208" stroke-width="1.8"/>
<ellipse cx="307.8" cy="145.3" rx="7.2" ry="8.3" transform="rotate(-20 307.8 145.3)" fill="none" stroke="#443208" stroke-width="1.8"/>
<path d="M193.6,81.5 L194.6,79.7 L201.5,83.1 L202.8,85.2 L205.6,82.5 L208.3,83.8 L211,88.5 L213.2,93.5" fill="none" stroke="#111" stroke-width="1.7" stroke-linejoin="round" stroke-linecap="round"/>
<rect x="169.4" y="246" width="10.4" height="7" fill="#fff" stroke="#9aa0c0" stroke-width="1"/>
<text x="274" y="128" class="lb" text-anchor="middle">CL</text>
<text x="299" y="133" class="lb" text-anchor="middle">c</text>
<text x="309" y="150.5" class="lb" text-anchor="middle">CL</text>
<text x="249" y="148" class="lb" text-anchor="middle">c</text>
<text x="209" y="172" class="lb" text-anchor="middle">CL</text>
<text x="261.5" y="214.5" class="lb" text-anchor="middle">c</text>
<text x="196.5" y="214.5" class="lb" text-anchor="middle">c</text>
<text x="309" y="175" class="lb" text-anchor="middle">c</text>
<text x="133" y="273" class="lb" text-anchor="middle">CL</text>
<text x="199" y="264.5" class="lb" text-anchor="middle">c</text>
<text x="171.5" y="323.5" class="lb" text-anchor="middle">CL</text>
<text x="135.5" y="358.5" class="lb" text-anchor="middle">L</text>
<text x="110" y="415.5" class="lb" text-anchor="middle">CL</text>
<text x="240" y="318" class="lb" text-anchor="middle">c</text>
</g>
<text x="187.3" y="42.8" text-anchor="middle" class="title" textLength="176" lengthAdjust="spacingAndGlyphs">Monitor de Secas</text>
<text x="187.2" y="70.2" text-anchor="middle" class="title" textLength="154" lengthAdjust="spacingAndGlyphs">Fevereiro/2021</text>
<text x="558.4" y="42.8" text-anchor="middle" class="title" textLength="176" lengthAdjust="spacingAndGlyphs">Monitor de Secas</text>
<text x="558" y="70.2" text-anchor="middle" class="title" textLength="123" lengthAdjust="spacingAndGlyphs">Março/2021</text>
<text x="237.9" y="391" class="lg1" textLength="35.8" lengthAdjust="spacingAndGlyphs">LEGENDA</text>
<text x="237.9" y="399.2" class="lg2" textLength="40" lengthAdjust="spacingAndGlyphs">Intensidade:</text>
<rect x="237.5" y="403.6" width="9.8" height="5.5" fill="#f3eef6"/>
<text x="250.1" y="408.6" class="lg3" textLength="52.5" lengthAdjust="spacingAndGlyphs">Sem Seca Relativa</text>
<rect x="237.5" y="411.2" width="9.8" height="5.5" fill="#f4ee1c"/>
<text x="250.1" y="416.2" class="lg3" textLength="38" lengthAdjust="spacingAndGlyphs">S0 Seca Fraca</text>
<rect x="237.5" y="419.6" width="9.8" height="5.5" fill="#f6d4a4"/>
<text x="250.1" y="424.6" class="lg3" textLength="52" lengthAdjust="spacingAndGlyphs">S1 Seca Moderada</text>
<rect x="237.5" y="427.8" width="9.8" height="5.5" fill="#d4781e"/>
<text x="250.1" y="432.8" class="lg3" textLength="40" lengthAdjust="spacingAndGlyphs">S2 Seca Grave</text>
<rect x="237.5" y="436.1" width="9.8" height="5.5" fill="#d41428"/>
<text x="250.1" y="441.1" class="lg3" textLength="46" lengthAdjust="spacingAndGlyphs">S3 Seca Extrema</text>
<rect x="237.5" y="444.4" width="9.8" height="5.5" fill="#5e0414"/>
<text x="250.1" y="449.4" class="lg3" textLength="56" lengthAdjust="spacingAndGlyphs">S4 Seca Excepcional</text>
<text x="237.9" y="459.2" class="lg1n" textLength="59.5" lengthAdjust="spacingAndGlyphs">Tipos de Impacto:</text>
<text x="237.9" y="466.2" class="lg4" textLength="121" lengthAdjust="spacingAndGlyphs">C = Curto prazo (e.g. agricultura, pastagem)</text>
<text x="237.9" y="473.8" class="lg4" textLength="116.5" lengthAdjust="spacingAndGlyphs">L = Longo prazo (e.g. hidrologia, ecologia)</text>
<text x="237.9" y="481.2" class="lg4" textLength="122" lengthAdjust="spacingAndGlyphs">L/C: Delimitação do Impactos Dominantes</text>
<text x="40.5" y="474.3" class="el" textLength="103.5" lengthAdjust="spacingAndGlyphs">Elaborado em: 17/03/2021</text><text x="608.8" y="391" class="lg1" textLength="35.8" lengthAdjust="spacingAndGlyphs">LEGENDA</text>
<text x="608.8" y="399.2" class="lg2" textLength="40" lengthAdjust="spacingAndGlyphs">Intensidade:</text>
<rect x="608.4" y="403.6" width="9.8" height="5.5" fill="#f3eef6"/>
<text x="621.0" y="408.6" class="lg3" textLength="52.5" lengthAdjust="spacingAndGlyphs">Sem Seca Relativa</text>
<rect x="608.4" y="411.2" width="9.8" height="5.5" fill="#f4ee1c"/>
<text x="621.0" y="416.2" class="lg3" textLength="38" lengthAdjust="spacingAndGlyphs">S0 Seca Fraca</text>
<rect x="608.4" y="419.6" width="9.8" height="5.5" fill="#f6d4a4"/>
<text x="621.0" y="424.6" class="lg3" textLength="52" lengthAdjust="spacingAndGlyphs">S1 Seca Moderada</text>
<rect x="608.4" y="427.8" width="9.8" height="5.5" fill="#d4781e"/>
<text x="621.0" y="432.8" class="lg3" textLength="40" lengthAdjust="spacingAndGlyphs">S2 Seca Grave</text>
<rect x="608.4" y="436.1" width="9.8" height="5.5" fill="#d41428"/>
<text x="621.0" y="441.1" class="lg3" textLength="46" lengthAdjust="spacingAndGlyphs">S3 Seca Extrema</text>
<rect x="608.4" y="444.4" width="9.8" height="5.5" fill="#5e0414"/>
<text x="621.0" y="449.4" class="lg3" textLength="56" lengthAdjust="spacingAndGlyphs">S4 Seca Excepcional</text>
<text x="608.8" y="459.2" class="lg1n" textLength="59.5" lengthAdjust="spacingAndGlyphs">Tipos de Impacto:</text>
<text x="608.8" y="466.2" class="lg4" textLength="121" lengthAdjust="spacingAndGlyphs">C = Curto prazo (e.g. agricultura, pastagem)</text>
<text x="608.8" y="473.8" class="lg4" textLength="116.5" lengthAdjust="spacingAndGlyphs">L = Longo prazo (e.g. hidrologia, ecologia)</text>
<text x="608.8" y="481.2" class="lg4" textLength="122" lengthAdjust="spacingAndGlyphs">L/C: Delimitação do Impactos Dominantes</text>
<text x="413.9" y="474.3" class="el" textLength="103.5" lengthAdjust="spacingAndGlyphs">Elaborado em: 19/04/2021</text>
</svg>
</body></html>
